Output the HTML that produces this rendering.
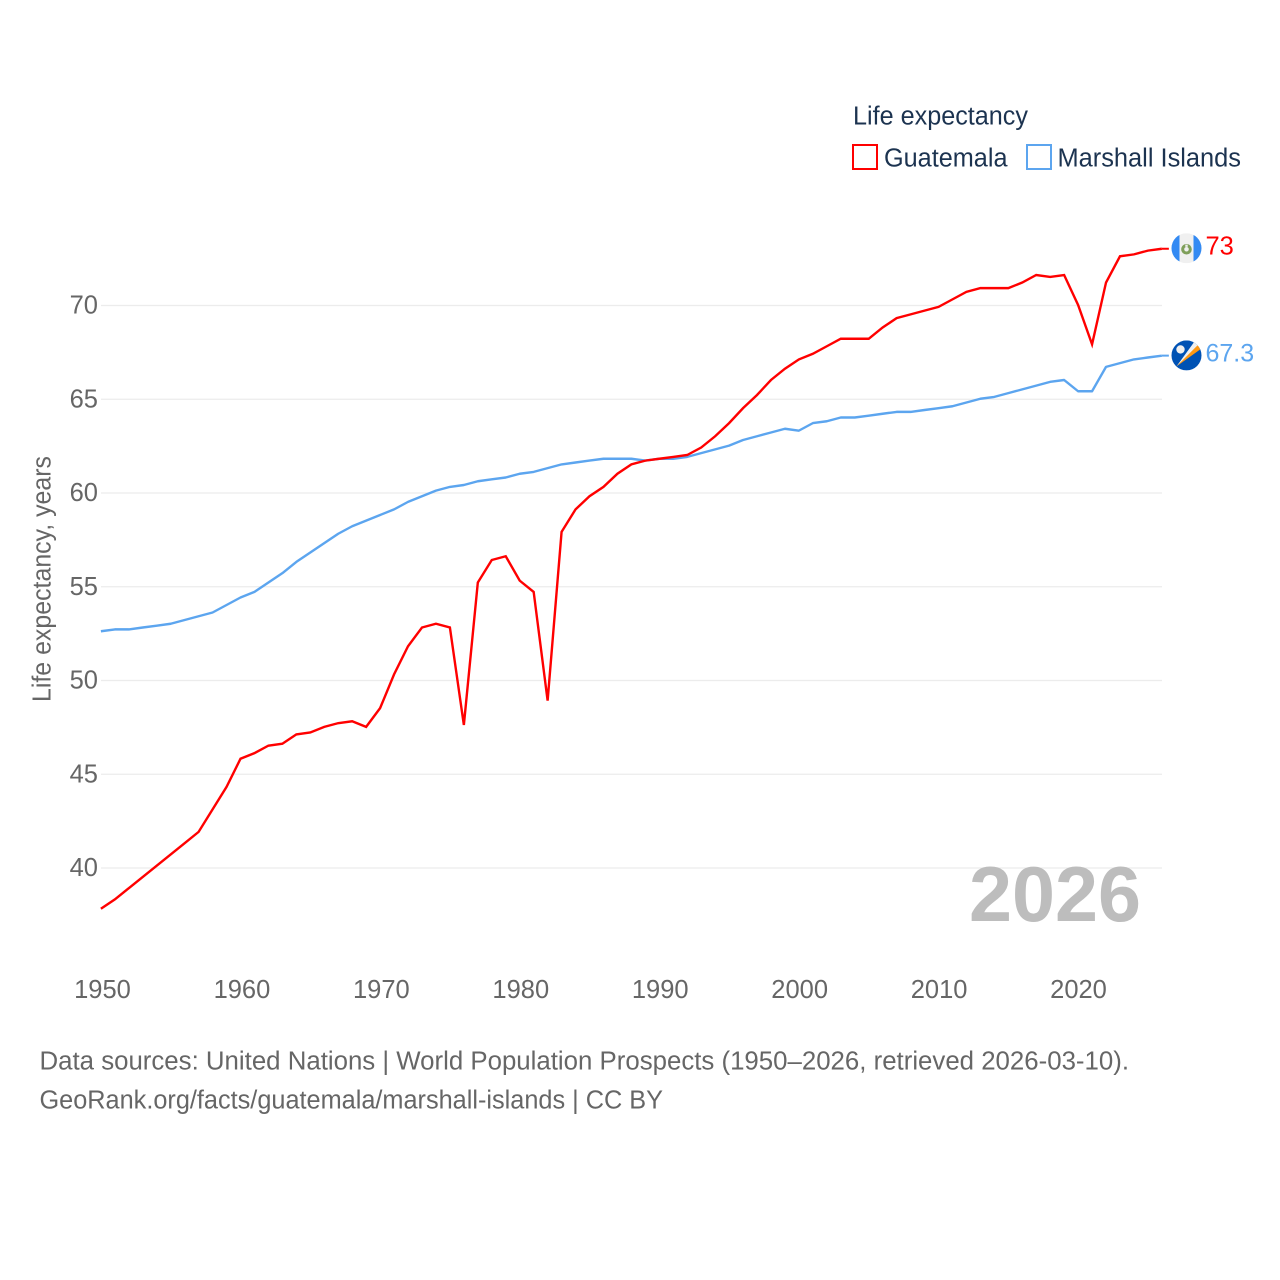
<!DOCTYPE html>
<html lang="en">
<head>
<meta charset="utf-8">
<title>Life expectancy: Guatemala and Marshall Islands</title>
<style>
html,body{margin:0;padding:0;background:#fff;width:1280px;height:1280px;overflow:hidden}
svg{display:block}
text{font-family:"Liberation Sans",Arial,sans-serif}
</style>
</head>
<body>
<svg id="chart" xmlns="http://www.w3.org/2000/svg" width="1280" height="1280" viewBox="0 0 1280 1280">
  <rect x="0" y="0" width="1280" height="1280" fill="#ffffff"/>
  <g id="grid"></g>
  <g id="yticks"></g>
  <g id="xticks"></g>
  <text transform="translate(50.5,702) rotate(-90)" font-size="25.5" fill="#666666" textLength="246" lengthAdjust="spacingAndGlyphs">Life expectancy, years</text>
  <text x="969" y="921" font-size="78" font-weight="bold" fill="#bdbdbd" textLength="172" lengthAdjust="spacingAndGlyphs">2026</text>
  <path id="line-marshall" fill="none" stroke="#5ca5ef" stroke-width="2.4" stroke-linejoin="round"/>
  <path id="line-guatemala" fill="none" stroke="#ff0000" stroke-width="2.4" stroke-linejoin="miter"/>

  <g>
    <text x="853" y="124.5" font-size="25.5" fill="#1c3350" textLength="175" lengthAdjust="spacingAndGlyphs">Life expectancy</text>
    <rect x="853" y="145" width="24" height="24" fill="none" stroke="#ff0000" stroke-width="2"/>
    <text x="884" y="166.5" font-size="25.5" fill="#1c3350" textLength="123.5" lengthAdjust="spacingAndGlyphs">Guatemala</text>
    <rect x="1027" y="145" width="24" height="24" fill="none" stroke="#5ca5ef" stroke-width="2"/>
    <text x="1057.5" y="166.5" font-size="25.5" fill="#1c3350" textLength="183.5" lengthAdjust="spacingAndGlyphs">Marshall Islands</text>
  </g>

  <defs>
    <clipPath id="clip-gt"><circle cx="0" cy="0" r="15"/></clipPath>
    <clipPath id="clip-mh"><circle cx="0" cy="0" r="15"/></clipPath>
  </defs>
  <g id="flag-gt">
    <g clip-path="url(#clip-gt)">
      <rect x="-15" y="-15" width="30" height="30" fill="#f0f0f0"/>
      <rect x="-15" y="-15" width="8" height="30" fill="#338af3"/>
      <rect x="7" y="-15" width="8" height="30" fill="#338af3"/>
      <circle cx="0" cy="1" r="3.8" fill="none" stroke="#7f9f5a" stroke-width="3"/>
      <rect x="-1.2" y="-3.6" width="2.4" height="2.2" fill="#f0f0f0"/>
    </g>
  </g>
  <g id="flag-mh">
    <g clip-path="url(#clip-mh)">
      <rect x="-15" y="-15" width="30" height="30" fill="#0052b4"/>
      <polygon points="-10,11 8.5,-14.5 13,-10" fill="#f0f0f0"/>
      <polygon points="-10,11 12,-11 14.5,-6.5" fill="#ff9811"/>
      <circle cx="-6" cy="-6" r="4.2" fill="#f0f0f0"/>
    </g>
  </g>
  <path id="end-guatemala" fill="none" stroke="#ff0000" stroke-width="2"/>
  <path id="end-marshall" fill="none" stroke="#5ca5ef" stroke-width="2"/>
  <text id="value-guatemala" x="1205.5" font-size="25.5" fill="#ff0000"></text>
  <text id="value-marshall" x="1205.5" font-size="25" fill="#5ca5ef"></text>

  <g>
    <text x="39.5" y="1069.5" font-size="25.5" fill="#666666" textLength="1089.5" lengthAdjust="spacingAndGlyphs">Data sources: United Nations | World Population Prospects (1950–2026, retrieved 2026-03-10).</text>
    <text x="39.5" y="1108.5" font-size="25.5" fill="#666666" textLength="623.5" lengthAdjust="spacingAndGlyphs">GeoRank.org/facts/guatemala/marshall-islands | CC BY</text>
  </g>
</svg>
<script>
const years = [1950,1951,1952,1953,1954,1955,1956,1957,1958,1959,1960,1961,1962,1963,1964,1965,1966,1967,1968,1969,1970,1971,1972,1973,1974,1975,1976,1977,1978,1979,1980,1981,1982,1983,1984,1985,1986,1987,1988,1989,1990,1991,1992,1993,1994,1995,1996,1997,1998,1999,2000,2001,2002,2003,2004,2005,2006,2007,2008,2009,2010,2011,2012,2013,2014,2015,2016,2017,2018,2019,2020,2021,2022,2023,2024,2025,2026];
const guatemala = [37.8,38.3,38.9,39.5,40.1,40.7,41.3,41.9,43.1,44.3,45.8,46.1,46.5,46.6,47.1,47.2,47.5,47.7,47.8,47.5,48.5,50.3,51.8,52.8,53.0,52.8,47.6,55.2,56.4,56.6,55.3,54.7,48.9,57.9,59.1,59.8,60.3,61.0,61.5,61.7,61.8,61.9,62.0,62.4,63.0,63.7,64.5,65.2,66.0,66.6,67.1,67.4,67.8,68.2,68.2,68.2,68.8,69.3,69.5,69.7,69.9,70.3,70.7,70.9,70.9,70.9,71.2,71.6,71.5,71.6,70.0,67.9,71.2,72.6,72.7,72.9,73.0];
const marshallIslands = [52.6,52.7,52.7,52.8,52.9,53.0,53.2,53.4,53.6,54.0,54.4,54.7,55.2,55.7,56.3,56.8,57.3,57.8,58.2,58.5,58.8,59.1,59.5,59.8,60.1,60.3,60.4,60.6,60.7,60.8,61.0,61.1,61.3,61.5,61.6,61.7,61.8,61.8,61.8,61.7,61.8,61.8,61.9,62.1,62.3,62.5,62.8,63.0,63.2,63.4,63.3,63.7,63.8,64.0,64.0,64.1,64.2,64.3,64.3,64.4,64.5,64.6,64.8,65.0,65.1,65.3,65.5,65.7,65.9,66.0,65.4,65.4,66.7,66.9,67.1,67.2,67.3];
const yTickLabels = [40,45,50,55,60,65,70];
const xTickLabels = [1950,1960,1970,1980,1990,2000,2010,2020];

const NS = 'http://www.w3.org/2000/svg';
function xScale(year){ return 100.9 + (year - 1950) * 13.96; }
function xLabelScale(year){ return 102.5 + (year - 1950) * 13.943; }
function yScale(v){ return 868 - (v - 40) * 18.75; }
function ySeries(v){ return yScale(v) - 0.5; }

const grid = document.getElementById('grid');
const yticks = document.getElementById('yticks');
const xticks = document.getElementById('xticks');

yTickLabels.forEach(function(v){
  const line = document.createElementNS(NS, 'line');
  line.setAttribute('x1', 101);
  line.setAttribute('x2', 1162);
  line.setAttribute('y1', yScale(v));
  line.setAttribute('y2', yScale(v));
  line.setAttribute('stroke', '#ececec');
  line.setAttribute('stroke-width', '1.3');
  
  
  grid.appendChild(line);

  const t = document.createElementNS(NS, 'text');
  t.setAttribute('x', 98);
  t.setAttribute('y', yScale(v) + 8);
  t.setAttribute('text-anchor', 'end');
  t.setAttribute('font-size', '25.5');
  t.setAttribute('fill', '#666666');
  t.textContent = v;
  
  
  yticks.appendChild(t);
});

xTickLabels.forEach(function(y){
  const t = document.createElementNS(NS, 'text');
  t.setAttribute('x', xLabelScale(y));
  t.setAttribute('y', 998);
  t.setAttribute('text-anchor', 'middle');
  t.setAttribute('font-size', '25.5');
  t.setAttribute('fill', '#666666');
  t.textContent = y;
  
  
  xticks.appendChild(t);
});

function linePath(values){
  return values.map(function(v, i){
    return (i ? 'L' : 'M') + xScale(years[i]).toFixed(2) + ' ' + ySeries(v).toFixed(2);
  }).join(' ');
}
document.getElementById('line-guatemala').setAttribute('d', linePath(guatemala));
document.getElementById('line-marshall').setAttribute('d', linePath(marshallIslands));

function placeEnd(values, flagId, endId, valueId, flagShift, labelShift){
  const last = values[values.length - 1];
  const lx = xScale(years[years.length - 1]);
  const ly = ySeries(last);
  document.getElementById(endId).setAttribute('d', 'M' + lx + ' ' + ly + ' L' + (lx + 7) + ' ' + ly);
  document.getElementById(flagId).setAttribute('transform', 'translate(1186.5,' + (ly + flagShift) + ')');
  const vt = document.getElementById(valueId);
  vt.setAttribute('y', ly + labelShift);
  vt.textContent = last;
}
placeEnd(guatemala, 'flag-gt', 'end-guatemala', 'value-guatemala', -0.5, 5.5);
placeEnd(marshallIslands, 'flag-mh', 'end-marshall', 'value-marshall', -0.2, 6);
</script>
</body>
</html>
